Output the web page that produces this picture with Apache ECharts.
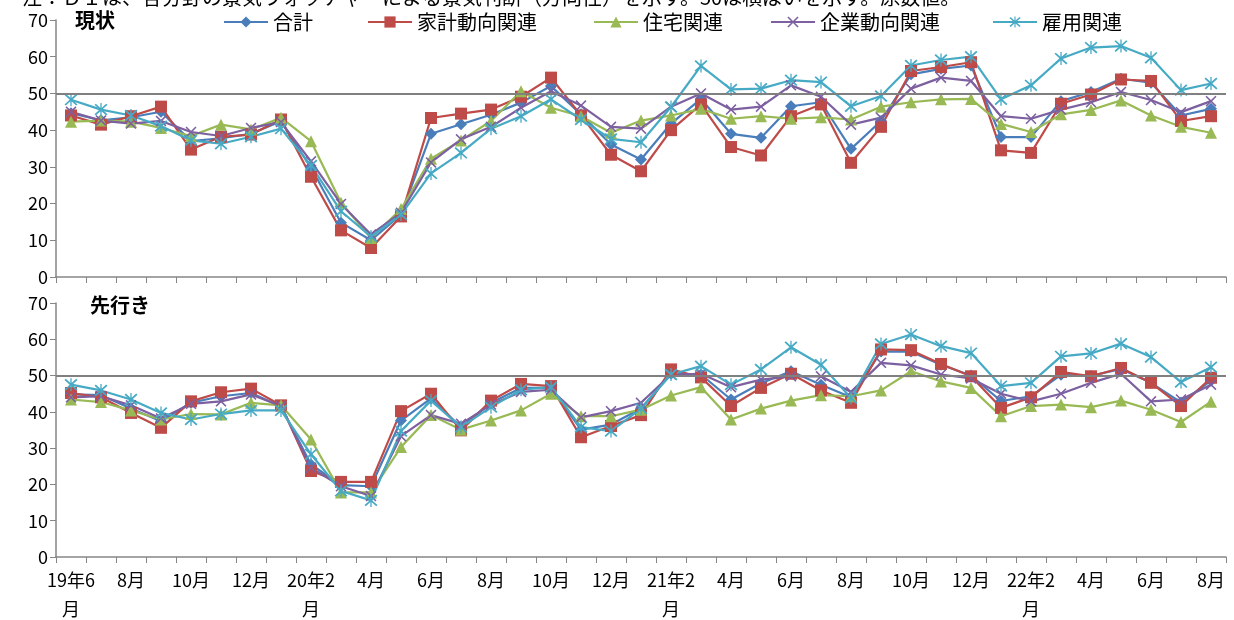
<!DOCTYPE html>
<html>
<head>
<meta charset="utf-8">
<script src="https://cdn.jsdelivr.net/npm/echarts/dist/echarts.min.js"></script>
<style>
  html, body { margin: 0; padding: 0; background: #fff; }
  #chart { width: 1234px; height: 620px; }
</style>
</head>
<body>
<div id="chart"></div>
<script>
// months 19/6 .. 22/8
const months = [
  '19年6月', '7月', '8月', '9月', '10月', '11月', '12月',
  '20年1月', '20年2月', '3月', '4月', '5月', '6月', '7月', '8月', '9月', '10月', '11月', '12月',
  '21年1月', '21年2月', '3月', '4月', '5月', '6月', '7月', '8月', '9月', '10月', '11月', '12月',
  '22年1月', '22年2月', '3月', '4月', '5月', '6月', '7月', '8月'
];
const seriesNames = ['合計', '家計動向関連', '住宅関連', '企業動向関連', '雇用関連'];
const yTicks = [0, 70, 10]; // min, max, step

// 現状
const nowTotal = [44.6, 42.7, 43.5, 45.0, 37.0, 37.8, 39.0, 42.4, 29.8, 14.8, 10.0, 17.0, 39.0, 41.6, 44.2, 47.5, 52.0, 44.3, 36.1, 32.0, 41.8, 48.5, 39.0, 37.9, 46.5, 47.6, 34.9, 42.5, 55.2, 56.7, 57.6, 38.1, 38.1, 47.9, 50.4, 54.0, 52.9, 44.0, 45.8];
const nowHousehold = [44.0, 41.5, 43.8, 46.4, 34.7, 38.2, 38.8, 42.9, 27.3, 12.7, 7.9, 16.5, 43.3, 44.5, 45.6, 49.1, 54.3, 44.0, 33.3, 28.8, 40.0, 47.0, 35.4, 33.1, 43.8, 47.0, 31.1, 40.9, 56.1, 57.2, 58.5, 34.5, 33.8, 47.2, 49.7, 53.8, 53.4, 42.5, 43.8];
const nowHousing = [42.3, 42.6, 42.3, 40.6, 38.4, 41.5, 40.2, 43.4, 37.0, 20.2, 10.6, 18.5, 32.2, 37.2, 42.5, 50.6, 46.1, 43.8, 39.3, 42.6, 44.0, 45.8, 43.1, 43.8, 43.1, 43.5, 42.9, 46.4, 47.6, 48.4, 48.5, 41.7, 39.5, 44.3, 45.5, 48.1, 44.0, 40.9, 39.3];
const nowCorporate = [45.0, 42.6, 41.8, 42.5, 39.5, 38.4, 40.6, 42.2, 31.5, 19.9, 11.6, 17.5, 31.2, 37.5, 40.9, 46.1, 50.6, 46.7, 40.9, 40.4, 46.4, 50.0, 45.6, 46.4, 52.2, 49.1, 41.5, 43.4, 51.3, 54.3, 53.4, 43.8, 43.1, 45.6, 47.6, 50.4, 48.2, 44.9, 47.9];
const nowEmployment = [48.3, 45.6, 44.0, 41.1, 37.2, 36.3, 38.2, 40.4, 30.4, 17.9, 11.0, 17.0, 28.2, 33.8, 40.4, 43.8, 48.4, 42.9, 37.6, 36.7, 46.3, 57.5, 51.1, 51.3, 53.6, 53.1, 46.5, 49.3, 57.6, 59.1, 60.0, 48.4, 52.2, 59.5, 62.5, 62.9, 59.7, 50.9, 52.7];

// 先行き
const outTotal = [44.8, 44.6, 40.9, 37.4, 42.5, 44.3, 45.2, 41.5, 25.5, 19.8, 19.5, 37.6, 43.7, 35.8, 42.5, 46.6, 46.6, 35.1, 36.5, 40.9, 50.5, 50.3, 43.4, 47.9, 51.2, 47.5, 44.0, 56.6, 56.6, 53.0, 50.0, 43.0, 44.3, 50.2, 49.9, 51.8, 48.0, 42.6, 48.6];
const outHousehold = [45.2, 44.0, 39.7, 35.6, 42.9, 45.4, 46.4, 41.8, 23.7, 20.7, 20.7, 40.2, 45.0, 34.9, 43.1, 47.7, 47.1, 33.0, 36.1, 39.1, 51.7, 49.5, 41.6, 46.6, 50.5, 45.9, 42.5, 57.2, 57.0, 53.2, 49.8, 41.1, 44.0, 51.0, 49.8, 52.1, 48.0, 41.6, 49.4];
const outHousing = [43.4, 42.7, 40.4, 37.9, 39.4, 39.3, 42.5, 41.8, 32.4, 17.8, 17.8, 30.3, 39.1, 35.1, 37.6, 40.4, 45.0, 38.8, 38.8, 40.6, 44.5, 46.8, 37.9, 40.9, 43.1, 44.6, 44.3, 45.9, 51.2, 48.4, 46.6, 38.8, 41.6, 42.0, 41.3, 43.1, 40.6, 37.2, 42.8];
const outCorporate = [44.0, 44.3, 41.8, 38.2, 42.2, 42.9, 44.8, 41.6, 24.6, 19.5, 16.8, 33.3, 39.1, 36.7, 42.0, 45.5, 46.1, 38.5, 40.2, 42.5, 50.3, 50.5, 46.8, 48.9, 49.8, 49.8, 45.5, 53.5, 52.8, 50.3, 49.2, 45.0, 42.9, 45.0, 48.0, 50.5, 42.9, 43.4, 47.5];
const outEmployment = [47.5, 45.9, 43.4, 39.7, 37.9, 39.4, 40.4, 40.4, 28.3, 18.2, 15.6, 34.7, 43.1, 35.8, 41.3, 46.1, 46.8, 35.8, 34.7, 40.9, 50.3, 52.6, 47.5, 51.7, 57.8, 53.0, 43.8, 58.7, 61.3, 58.1, 56.2, 47.1, 48.0, 55.3, 56.1, 58.8, 55.1, 48.2, 52.3];

const colors = ['#4A7EBB', '#BE4B48', '#98B954', '#7D60A0', '#46AAC5'];
const X_PATH = 'path://M2,0L10,8L18,0L20,2L12,10L20,18L18,20L10,12L2,20L0,18L8,10L0,2Z';
const STAR_PATH = X_PATH.replace('Z', 'ZM9,-1L11,-1L11,21L9,21Z');
const symbols = ['diamond', 'rect', 'triangle', X_PATH, STAR_PATH];
const symbolSizes = [12, 12, 12, 11, 13];

const font = '"Noto Sans CJK JP", "Noto Sans", sans-serif';
const gray = '#868686';

function makeSeries(datas, gridIdx) {
  return datas.map(function (d, i) {
    const s = {
      name: seriesNames[i],
      type: 'line',
      xAxisIndex: gridIdx,
      yAxisIndex: gridIdx,
      data: d,
      symbol: symbols[i],
      symbolSize: symbolSizes[i],
      showAllSymbol: true,
      lineStyle: { color: colors[i], width: 2.2 },
      itemStyle: { color: colors[i] },
      emphasis: { disabled: true }
    };
    if (i === 0) {
      s.markLine = {
        silent: true,
        symbol: 'none',
        label: { show: false },
        lineStyle: { color: '#808080', width: 2, type: 'solid' },
        data: [{ yAxis: 50 }]
      };
    }
    return s;
  });
}

function xAxisFor(gridIdx, showLabels) {
  return {
    type: 'category',
    gridIndex: gridIdx,
    data: months,
    boundaryGap: true,
    axisLine: { lineStyle: { color: gray, width: 1.5 } },
    axisTick: { show: true, interval: 0, length: 6, lineStyle: { color: gray } },
    axisLabel: {
      show: showLabels,
      interval: 1,
      color: '#000',
      fontSize: 18,
      fontFamily: font,
      margin: 9,
      lineHeight: 29,
      formatter: function (v) {
        return v.indexOf('年') > -1 ? v.slice(0, -1) + '\n月' : v;
      }
    },
    splitLine: { show: false }
  };
}

function yAxisFor(gridIdx) {
  return {
    type: 'value',
    gridIndex: gridIdx,
    min: yTicks[0],
    max: yTicks[1],
    interval: yTicks[2],
    axisLine: { show: true, lineStyle: { color: gray, width: 1.5 } },
    axisTick: { show: true, length: 6, lineStyle: { color: gray } },
    axisLabel: { color: '#000', fontSize: 18, fontFamily: font, margin: 8 },
    splitLine: { show: false }
  };
}

const legendLeft = [218, 362, 588, 765, 987];

const chart = echarts.init(document.getElementById('chart'));
chart.setOption({
  animation: false,
  textStyle: { fontFamily: font },
  graphic: [
    {
      type: 'text', left: 22, top: -13,
      style: { text: '注：ＤＩは、各分野の景気ウォッチャーによる景気判断（方向性）を示す。50は横ばいを示す。原数値。', font: '20px ' + font, fill: '#000' }
    },
    {
      type: 'text', left: 75, top: 10,
      style: { text: '現状', font: 'bold 20px ' + font, fill: '#000' }
    },
    {
      type: 'text', left: 90, top: 295,
      style: { text: '先行き', font: 'bold 20px ' + font, fill: '#000' }
    }
  ],
  legend: seriesNames.map(function (n, i) {
    return {
      data: [n],
      left: legendLeft[i],
      top: 7,
      itemWidth: 44,
      itemHeight: 14,
      itemGap: 0,
      selectedMode: false,
      textStyle: { fontSize: 20, color: '#000', fontFamily: font }
    };
  }),
  grid: [
    { left: 56, right: 8, top: 20, height: 257, outerBoundsMode: 'none' },
    { left: 56, right: 8, top: 303, height: 254, outerBoundsMode: 'none' }
  ],
  xAxis: [xAxisFor(0, false), xAxisFor(1, true)],
  yAxis: [yAxisFor(0), yAxisFor(1)],
  series: makeSeries([nowTotal, nowHousehold, nowHousing, nowCorporate, nowEmployment], 0)
    .concat(makeSeries([outTotal, outHousehold, outHousing, outCorporate, outEmployment], 1))
});
</script>
</body>
</html>
